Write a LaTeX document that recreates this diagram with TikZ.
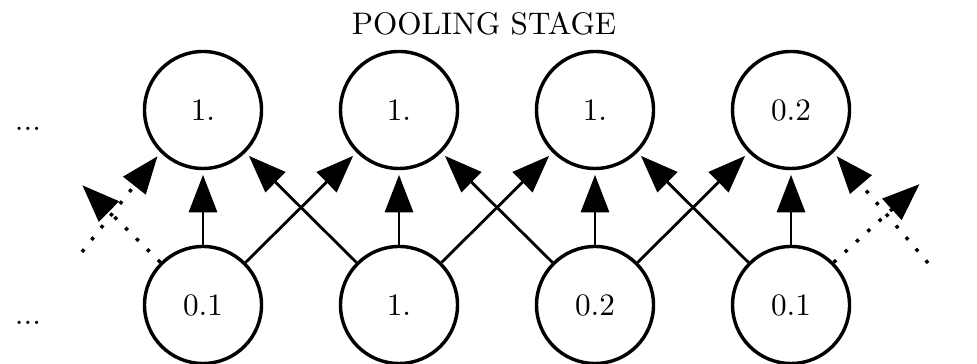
\documentclass[tikz,border=0pt]{standalone}
\usetikzlibrary{arrows.meta}
\begin{document}
\begin{tikzpicture}[x=0.3205pt,y=-0.3205pt,
  unit/.style={circle,draw,line width=1.1pt,minimum size=37.5pt,inner sep=0pt},
  conn/.style={line width=0.9pt,-{Triangle[length=12pt,width=9pt]},shorten >=1.5pt},
  faint/.style={conn,line width=1.1pt,dash pattern=on 1.1pt off 3.8pt},
  ]
\useasboundingbox (0,0) rectangle (977,364);
\node[anchor=base] (title) at (484,35) {POOLING STAGE};
% pooled units (top) and detector units (bottom)
\foreach \i/\x/\tl/\bl in {1/203/1./0.1, 2/399/1./1., 3/595/1./0.2, 4/791/0.2/0.1}{
  \node[unit] (t\i) at (\x,110) {\tl};
  \node[unit] (b\i) at (\x,305) {\bl};
}
\node[anchor=base] (dtl) at (28,131) {...};
\node[anchor=base] (dbl) at (28,325) {...};
\node[anchor=base west] (dtr) at (972,131) {...};
\node[anchor=base west] (dbr) at (972,325) {...};
% straight connections
\foreach \i in {1,...,4}{ \draw[conn] (b\i) -- (t\i); }
\foreach \i/\j in {1/2,2/3,3/4}{
  \draw[conn] (b\i.45) -- (t\j.225);
  \draw[conn] (b\j.135) -- (t\i.315);
}
% connections to units outside the window
\coordinate (inL) at (82,252);
\coordinate (outL) at (79,182);
\coordinate (inR) at (928,263);
\coordinate (outR) at (923,181);
\draw[faint] (inL) -- (t1.225);
\draw[faint] (b1.135) -- (outL);
\draw[faint] (inR) -- (t4.315);
\draw[faint] (b4.45) -- (outR);
\end{tikzpicture}
\end{document}
